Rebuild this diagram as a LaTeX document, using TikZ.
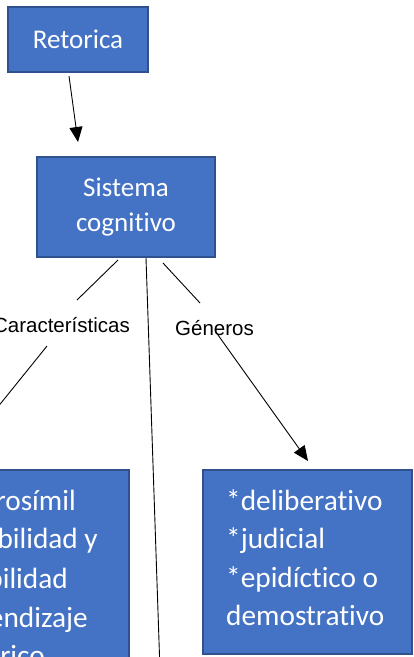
\documentclass[tikz,border=0pt]{standalone}
\usepackage{fontspec}
\setmainfont{Carlito}[Ligatures={NoCommon}]
\newfontfamily\arialf{Liberation Sans}
\usetikzlibrary{arrows.meta}
\definecolor{boxfill}{HTML}{4472C4}
\definecolor{boxborder}{HTML}{2F528F}
\begin{document}
\begin{tikzpicture}[x=1pt,y=-1pt,
  box/.style={draw=boxborder, fill=boxfill, line width=1.6pt, text=white, inner sep=0pt},
  wtxt/.style={text=white, inner sep=0pt, font=\fontsize{29.3}{34}\selectfont},
  lbl/.style={font=\arialf\fontsize{20.5}{24}\selectfont, inner sep=0pt, anchor=base},
  conn/.style={line width=0.9pt, draw=black},
  arr/.style={conn, -{Triangle[length=15pt,width=13pt]}},
]
\useasboundingbox (0,0) rectangle (413,657);
% boxes
\node[box, minimum width=140pt, minimum height=65pt, font=\fontsize{27}{32}\selectfont] (ret) at (78,39.5)
  {Retorica};
\node[box, minimum width=178pt, minimum height=100pt, align=center, font=\fontsize{27}{35}\selectfont] (sys) at (126,207)
  {Sistema\\cognitivo};
\node[box, minimum width=209pt, minimum height=230pt] (car) at (24.5,585) {};
\node[box, minimum width=209pt, minimum height=184pt] (gen) at (307.5,562) {};
% left box text (cut by the page edge)
\node[wtxt, anchor=base east] (c1) at (76,510) {rosímil};
\node[wtxt, anchor=base east] (c2) at (98,548) {bilidad y};
\node[wtxt, anchor=base east] (c3) at (68,588) {bilidad};
\node[wtxt, anchor=base east] (c4) at (88,627) {endizaje};
\node[wtxt, anchor=base east] (c5) at (45,665) {rico};
% right box text
\node[wtxt, anchor=base west] (g1) at (226,510) {*deliberativo};
\node[wtxt, anchor=base west] (g2) at (226,548) {*judicial};
\node[wtxt, anchor=base west] (g3) at (226,587) {*epidíctico o};
\node[wtxt, anchor=base west] (g4) at (226,625) {demostrativo};
% labels
\node[lbl, anchor=base east] (lcar) at (130,332) {Características};
\node[lbl, anchor=base west] (lgen) at (175,335) {Géneros};
% connector end points
\coordinate (a1) at (69,76);
\coordinate (a2) at (78,142);
\coordinate (s1) at (118,260);
\coordinate (s2) at (77,300);
\coordinate (s3) at (47,346);
\coordinate (s4) at (-53,470);
\coordinate (m1) at (146,258);
\coordinate (m2) at (161,700);
\coordinate (r1) at (163,263);
\coordinate (r2) at (200,303);
\coordinate (r3) at (218,335);
\coordinate (r4) at (308,461);
% connectors
\draw[arr] (a1) -- (a2);
\draw[conn] (s1) -- (s2);
\draw[conn] (s3) -- (s4);
\draw[conn] (m1) -- (m2);
\draw[conn] (r1) -- (r2);
\draw[arr] (r3) -- (r4);
\end{tikzpicture}
\end{document}
